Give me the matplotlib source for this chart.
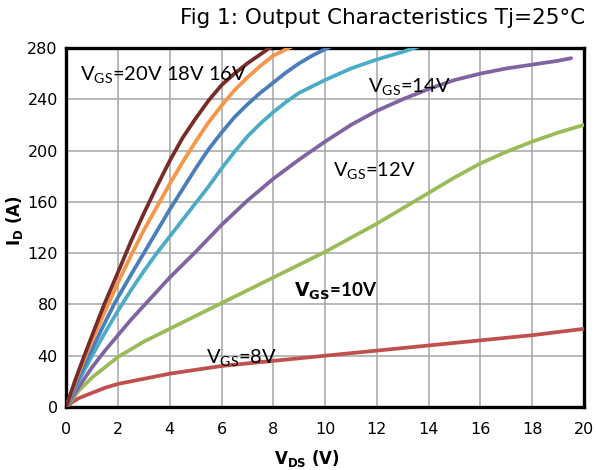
import matplotlib
matplotlib.use('Agg')
import matplotlib.pyplot as plt

plt.rcParams['mathtext.fontset'] = 'custom'
plt.rcParams['mathtext.rm'] = 'Lato'
plt.rcParams['mathtext.bf'] = 'DejaVu Sans:bold'

# Output curves, I_D (A) vs V_DS (V), one per gate voltage
vds_20 = [0, 0.35, 0.7, 1.1, 1.47, 2, 2.5, 3, 3.5, 4, 4.5, 5, 5.5, 6, 6.5, 7, 7.5, 8]
id_20 = [0, 21, 40, 61, 80, 105, 129, 151, 172, 192, 210, 225, 239, 251, 260, 268, 275, 282]

vds_18 = [0, 0.4, 0.75, 1.2, 1.6, 2, 2.5, 3, 3.5, 4, 4.5, 5, 5.5, 6, 6.5, 7, 7.5, 8, 8.8]
id_18 = [0, 22, 40, 61, 79, 97, 118, 138, 156, 174, 191, 207, 222, 235, 247, 257, 266, 274, 282]

vds_16 = [0, 0.45, 0.9, 1.4, 1.9, 2.5, 3, 3.5, 4, 4.5, 5, 5.5, 6, 6.5, 7, 7.5, 8, 8.5, 9, 9.5, 10.2]
id_16 = [0, 21, 41, 62, 82, 103, 120, 137, 154, 170, 186, 201, 214, 226, 236, 245, 253, 261, 268, 274, 281]

vds_14 = [0, 0.5, 1, 1.5, 2, 2.5, 3, 3.5, 4, 4.5, 5, 5.5, 6, 6.5, 7, 7.5, 8, 8.5, 9, 9.5, 10, 11, 12, 13, 13.6]
id_14 = [0, 21, 40, 58, 75, 91, 106, 120, 133, 146, 159, 172, 186, 199, 211, 221, 230, 238, 245, 250, 255, 264, 271, 277, 281]

vds_12 = [0, 0.5, 1, 1.5, 2, 2.5, 3, 4, 5, 6, 7, 8, 9, 10, 11, 12, 13, 14, 15, 16, 17, 18, 19, 19.5]
id_12 = [0, 16, 31, 44, 56, 68, 79, 101, 121, 142, 161, 178, 193, 207, 220, 231, 240, 248, 255, 260, 264, 267, 270, 272]

vds_10 = [0, 0.5, 1, 1.5, 2, 3, 4, 5, 6, 7, 8, 9, 10, 11, 12, 13, 14, 15, 16, 17, 18, 19, 20]
id_10 = [0, 13, 23, 31, 39, 51, 61, 71, 81, 91, 101, 111, 121, 132, 143, 155, 167, 179, 190, 199, 207, 214, 220]

vds_8 = [0, 0.25, 0.5, 1, 1.5, 2, 3, 4, 5, 6, 7, 8, 10, 12, 14, 16, 18, 20]
id_8 = [0, 4, 7, 11, 15, 18, 22, 26, 29, 32, 34, 36, 40, 44, 48, 52, 56, 61]

xticks = list(range(0, 21, 2))
yticks = list(range(0, 281, 40))

fig = plt.figure(figsize=(5.96, 4.70), dpi=100)
ax = fig.add_axes([0.111, 0.134, 0.869, 0.764])

lw = 2.7
ax.plot(vds_8, id_8, color='#C0504D', lw=lw, solid_capstyle='round', zorder=3)
ax.plot(vds_10, id_10, color='#9BBB59', lw=lw, solid_capstyle='round', zorder=3)
ax.plot(vds_12, id_12, color='#8064A2', lw=lw, solid_capstyle='round', zorder=3)
ax.plot(vds_14, id_14, color='#4BACC6', lw=lw, solid_capstyle='round', zorder=3)
ax.plot(vds_16, id_16, color='#4A7EBB', lw=lw, solid_capstyle='round', zorder=3)
ax.plot(vds_18, id_18, color='#F79646', lw=lw, solid_capstyle='round', zorder=3)
ax.plot(vds_20, id_20, color='#772C2A', lw=lw, solid_capstyle='round', zorder=3)

ax.set_xlim(0, 20)
ax.set_ylim(0, 280)
ax.set_xticks(xticks)
ax.set_yticks(yticks)
ax.grid(True, color='#A6A6A6', lw=1.1)
ax.set_axisbelow(True)
ax.tick_params(length=0, labelsize=11.5)
ax.tick_params(axis='x', pad=11)
ax.tick_params(axis='y', pad=6)
for s in ax.spines.values():
    s.set_linewidth(2.4)

ax.set_xlabel(r'$\mathbf{V_{DS}}$ (V)', fontsize=12, fontweight='bold')
ax.set_ylabel(r'$\mathbf{I_{D}}$ (A)', fontsize=12, fontweight='bold')
ax.xaxis.set_label_coords(0.465, -0.115)
ax.yaxis.set_label_coords(-0.08, 0.52)

lab = dict(fontsize=14.5, family='Lato', va='baseline', zorder=4)
ax.text(0.55, 255, r'$\mathrm{V_{GS}}$=20V 18V 16V', **lab)
ax.text(11.65, 246, r'$\mathrm{V_{GS}}$=14V', **lab)
ax.text(10.3, 180, r'$\mathrm{V_{GS}}$=12V', **lab)
ax.text(8.8, 86, r'$\mathbf{V_{GS}}$=10V', fontsize=13.5, family='Lato',
        fontweight='bold', va='baseline', zorder=4)
ax.text(5.4, 34, r'$\mathrm{V_{GS}}$=8V', **lab)

fig.text(0.982, 0.962, 'Fig 1: Output Characteristics Tj=25°C', ha='right',
         va='center', fontsize=15.5)

fig.savefig('out.png', dpi=100)
